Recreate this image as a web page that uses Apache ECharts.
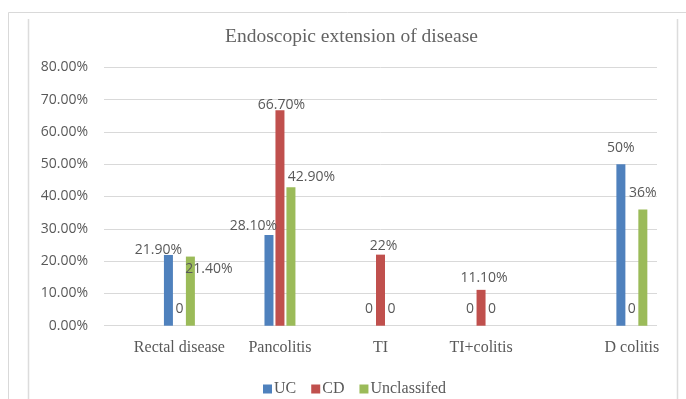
<!DOCTYPE html>
<html>
<head>
<meta charset="utf-8">
<title>Endoscopic extension of disease</title>
<script src="https://cdn.jsdelivr.net/npm/echarts@6/dist/echarts.min.js"></script>
<style>
  html, body { margin: 0; padding: 0; background: #ffffff; }
  #chart { width: 686px; height: 399px; }
</style>
</head>
<body>
<div id="chart"></div>
<script>
// Categories and values (percent)
const categories = ['Rectal disease', 'Pancolitis', 'TI', 'TI+colitis', 'D colitis'];
const ucValues = [21.9, 28.1, 0, 0, 50];
const cdValues = [0, 66.7, 22, 11.1, 0];
const unclassifiedValues = [21.4, 42.9, 0, 0, 36];

// Data label texts as printed above the bars
const ucLabels = ['21.90%', '28.10%', '0', '0', '50%'];
const cdLabels = ['0', '66.70%', '22%', '11.10%', '0'];
const unclassifiedLabels = ['21.40%', '42.90%', '0', '0', '36%'];

// Y axis tick labels
const yTickLabels = ['0.00%', '10.00%', '20.00%', '30.00%', '40.00%', '50.00%', '60.00%', '70.00%', '80.00%'];

// ---- layout ----
// The axis is split into equal slots; each group sits in one slot.
const SLOT_COUNT = 11;
const groupSlots = [1, 3, 5, 7, 10];

// Per-label nudges [dx, dy] relative to the bar top
const ucLabelShift = [[-10, 2.5], [-15.5, -2], [-0.5, -9.7], [0, -9.7], [0, -8.8]];
const cdLabelShift = [[0, -9.7], [1.5, 2.1], [3, -1.7], [3, -5.2], [0, -9.7]];
const unclassifiedLabelShift = [[18.5, 19.9], [20.5, -3.2], [0, -9.7], [0, -9.7], [0, -9.5]];

const GRAY = '#595959';
const SANS = 'Open Sans';
const SERIF = 'Liberation Serif';

const axisCategories = new Array(SLOT_COUNT).fill('');
groupSlots.forEach((s, i) => { axisCategories[s] = categories[i]; });

function slotData(values, labels, shifts) {
  const out = new Array(SLOT_COUNT).fill('-');
  groupSlots.forEach((s, i) => {
    out[s] = {
      value: values[i],
      label: { formatter: labels[i], offset: shifts[i] }
    };
  });
  return out;
}

const labelStyle = {
  show: true,
  position: 'top',
  distance: 0,
  color: GRAY,
  fontFamily: SANS,
  fontSize: 14,
  lineHeight: 14
};

function barSeries(name, color, values, labels, shifts) {
  return {
    name: name,
    type: 'bar',
    barWidth: 9,
    barGap: '22%',
    itemStyle: { color: color },
    label: labelStyle,
    emphasis: { disabled: true },
    data: slotData(values, labels, shifts)
  };
}

const chart = echarts.init(document.getElementById('chart'), null, { renderer: 'canvas' });

chart.setOption({
  animation: false,
  backgroundColor: '#ffffff',
  title: {
    text: 'Endoscopic extension of disease',
    left: 225,
    top: 26.5,
    padding: 0,
    textStyle: {
      fontFamily: SERIF,
      fontSize: 19.5,
      lineHeight: 20,
      fontWeight: 'normal',
      color: '#636363'
    }
  },
  legend: {
    data: ['UC', 'CD', 'Unclassifed'],
    left: 263,
    top: 381,
    padding: 0,
    itemWidth: 9,
    itemHeight: 9,
    itemGap: 15,
    icon: 'rect',
    textStyle: {
      fontFamily: SERIF,
      fontSize: 16,
      color: GRAY,
      padding: [0, 0, 0, -3]
    }
  },
  grid: {
    left: 104,
    right: 29,
    top: 67.3,
    bottom: 73.3,
    containLabel: false
  },
  xAxis: {
    type: 'category',
    data: axisCategories,
    axisLine: { show: false },
    axisTick: { show: false },
    axisLabel: {
      interval: 0,
      margin: 14.5,
      color: GRAY,
      fontFamily: SERIF,
      fontSize: 16,
      lineHeight: 16
    }
  },
  yAxis: {
    type: 'value',
    min: 0,
    max: 80,
    interval: 10,
    axisLine: { show: false },
    axisTick: { show: false },
    splitLine: { lineStyle: { color: '#D9D9D9', width: 1 } },
    axisLabel: {
      margin: 16,
      color: GRAY,
      fontFamily: SANS,
      fontSize: 14,
      formatter: function (v) { return yTickLabels[Math.round(v / 10)]; }
    }
  },
  series: [
    barSeries('UC', '#4F81BD', ucValues, ucLabels, ucLabelShift),
    barSeries('CD', '#C0504D', cdValues, cdLabels, cdLabelShift),
    barSeries('Unclassifed', '#9BBB59', unclassifiedValues, unclassifiedLabels, unclassifiedLabelShift)
  ],
  graphic: [
    { type: 'line', silent: true, shape: { x1: 8.5, y1: 12.5, x2: 686, y2: 12.5 }, style: { stroke: '#D9D9D9', lineWidth: 1 } },
    { type: 'line', silent: true, shape: { x1: 8.5, y1: 12.5, x2: 8.5, y2: 399 }, style: { stroke: '#D9D9D9', lineWidth: 1 } },
    { type: 'line', silent: true, shape: { x1: 28.5, y1: 19, x2: 28.5, y2: 399 }, style: { stroke: '#DCDCDC', lineWidth: 1.5 } },
    { type: 'line', silent: true, shape: { x1: 677.5, y1: 19, x2: 677.5, y2: 399 }, style: { stroke: '#DCDCDC', lineWidth: 1.5 } }
  ]
});
</script>
</body>
</html>
